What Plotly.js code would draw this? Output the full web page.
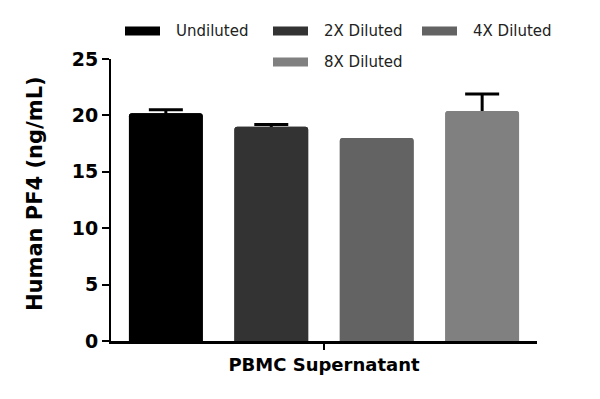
<!DOCTYPE html>
<html>
<head>
<meta charset="utf-8">
<script src="https://cdn.plot.ly/plotly-3.0.1.min.js"></script>
<style>html,body{margin:0;padding:0;background:#fff;}#chart{width:600px;height:399px;}</style>
</head>
<body>
<div id="chart"></div>
<script>
var category = ["PBMC Supernatant"];
var seriesNames = ["Undiluted", "2X Diluted", "4X Diluted", "8X Diluted"];
var seriesValues = [20.2, 19.0, 18.0, 20.4];
var seriesErrors = [0.3, 0.2, null, 1.5];
var seriesColors = ["#000000", "#333333", "#636363", "#808080"];
var yTickValues = [0, 5, 10, 15, 20, 25];
var groups = ["a", "b", "c", "d"];

var FONT = "DejaVu Sans";
var L = 111, R = 63, T = 59, B = 58, W = 600, H = 399;
var pw = W - L - R, ph = H - T - B;
function px(x) { return (x - L) / pw; }
function py(y) { return (H - B - y) / ph; }

var traces = [];
// bottom layer: bars with error bars (lower half of each error bar is hidden by top layer)
seriesNames.forEach(function (name, i) {
  traces.push({
    type: "bar", x: category, y: [seriesValues[i]], name: name,
    offsetgroup: groups[i], xaxis: "x", yaxis: "y",
    marker: { color: seriesColors[i], cornerradius: 3, line: { width: 0 } },
    error_y: { type: "data", array: [seriesErrors[i]], visible: seriesErrors[i] !== null,
               color: "#000", thickness: 3, width: 17 },
    showlegend: false, hoverinfo: "skip"
  });
});
// top layer: same bars drawn over the error bars
seriesNames.forEach(function (name, i) {
  traces.push({
    type: "bar", x: category, y: [seriesValues[i]], name: name,
    offsetgroup: groups[i], xaxis: "x", yaxis: "y2",
    marker: { color: seriesColors[i], cornerradius: 3, line: { width: 0 } },
    showlegend: false
  });
});

// custom legend
var legendPos = [[125, 31], [273, 31], [422, 31], [273, 62]];
var shapes = [], annotations = [];
seriesNames.forEach(function (name, i) {
  var p = legendPos[i];
  shapes.push({
    type: "rect", xref: "paper", yref: "paper",
    x0: px(p[0]), x1: px(p[0] + 35), y0: py(p[1] + 4.5), y1: py(p[1] - 4.5),
    fillcolor: seriesColors[i], line: { width: 0 }
  });
  annotations.push({
    xref: "paper", yref: "paper", x: px(p[0] + 49), y: py(p[1]),
    xanchor: "left", yanchor: "middle", showarrow: false, text: name,
    font: { family: FONT, size: 15, color: "#222" }
  });
});
annotations.push({
  xref: "paper", yref: "paper", x: px(35), y: py(194),
  xanchor: "center", yanchor: "middle", showarrow: false, textangle: -90,
  text: "Human PF4 (ng/mL)",
  font: { family: FONT, size: 21, color: "#000", weight: "bold" }
});

var yAxisCommon = {
  range: [0, 25], tickvals: yTickValues, showgrid: false, zeroline: false
};

var layout = {
  width: W, height: H,
  margin: { l: L, r: R, t: T, b: B, pad: 0 },
  paper_bgcolor: "#fff", plot_bgcolor: "#fff",
  barmode: "group", bargap: 0.01, bargroupgap: 0.3,
  showlegend: false,
  font: { family: FONT, color: "#000" },
  xaxis: {
    type: "category", showline: true, linewidth: 2.5, linecolor: "#000",
    ticks: "outside", ticklen: 6, tickwidth: 2, tickcolor: "#000",
    tickfont: { family: FONT, size: 18, weight: "bold", color: "#000" },
    showgrid: false, zeroline: false, fixedrange: true
  },
  yaxis: Object.assign({}, yAxisCommon, {
    showline: true, linewidth: 2, linecolor: "#000",
    ticks: "outside", ticklen: 7, tickwidth: 2, tickcolor: "#000",
    tickfont: { family: FONT, size: 19, weight: "bold", color: "#000" }
  }),
  yaxis2: Object.assign({}, yAxisCommon, {
    overlaying: "y", visible: false
  }),
  shapes: shapes,
  annotations: annotations
};

Plotly.newPlot("chart", traces, layout, { displayModeBar: false, staticPlot: true });
</script>
</body>
</html>
